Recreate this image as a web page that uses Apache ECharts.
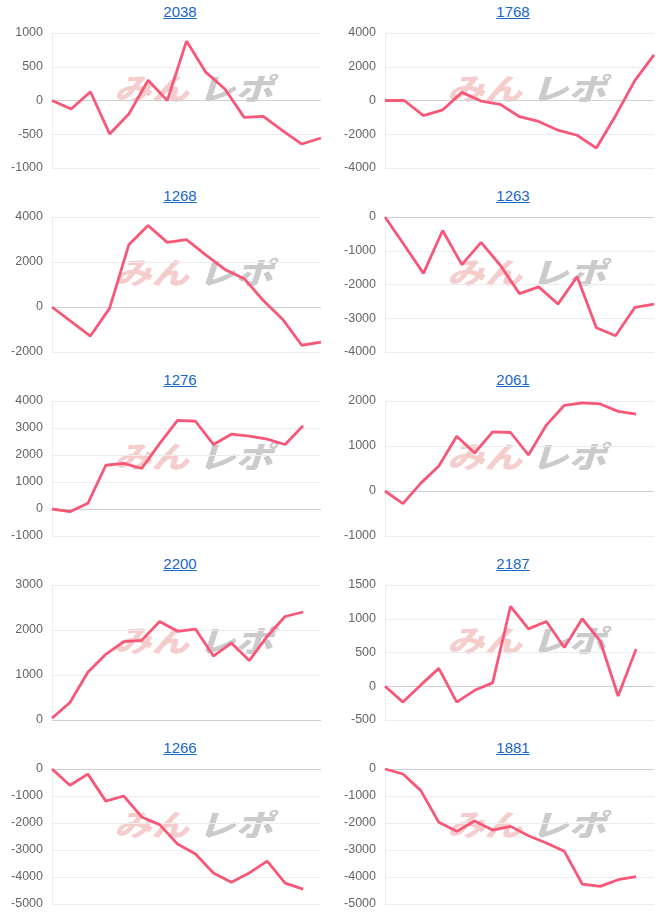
<!DOCTYPE html>
<html lang="ja">
<head>
<meta charset="utf-8">
<title>収支グラフ</title>
<script src="https://cdn.jsdelivr.net/npm/echarts@6/dist/echarts.min.js"></script>
<style>
html, body {
  margin: 0;
  padding: 0;
  background: #fff;
}
.board {
  width: 666px;
  display: grid;
  grid-template-columns: 333px 333px;
  grid-auto-rows: 184px;
}
.cell {
  position: relative;
}
.cell .title {
  height: 26px;
  padding: 3px 0 0 27px;
  box-sizing: border-box;
  line-height: 22px;
  text-align: center;
  font: 15px 'Liberation Sans', Arial, sans-serif;
}
.cell .title a {
  color: #1a66cc;
  text-decoration: underline;
}
.cell .chart {
  width: 333px;
  height: 158px;
}
</style>
</head>
<body>
<div class="board" id="board"></div>

<script>
// 日付（横軸）
const days = ['1', '2', '3', '4', '5', '6', '7', '8', '9', '10', '11', '12', '13', '14', '15', '16'];

// 台番号
const titles = ['2038', '1768', '1268', '1263', '1276', '2061', '2200', '2187', '1266', '1881'];

// 差枚の推移（未集計の日は null）
const v2038 = [0, -125, 130, -495, -200, 300, 0, 880, 420, 170, -250, -235, -445, -645, -555];
const v1768 = [0, 0, -900, -560, 480, -30, -230, -960, -1240, -1760, -2060, -2820, -900, 1180, 2700];
const v1268 = [0, -650, -1290, -50, 2770, 3620, 2870, 2990, 2320, 1670, 1260, 290, -540, -1700, -1560];
const v1263 = [0, -830, -1670, -400, -1410, -750, -1430, -2270, -2070, -2580, -1770, -3280, -3520, -2680, -2580];
const v1276 = [0, -100, 210, 1620, 1690, 1500, 2420, 3280, 3250, 2390, 2770, 2700, 2590, 2390, 3080, null];
const v2061 = [0, -280, 175, 555, 1215, 845, 1315, 1300, 800, 1465, 1905, 1960, 1935, 1770, 1710, null];
const v2200 = [40, 390, 1060, 1460, 1740, 1770, 2190, 1970, 2020, 1420, 1710, 1320, 1860, 2300, 2400, null];
const v2187 = [0, -235, 20, 265, -235, -60, 50, 1185, 850, 960, 575, 1000, 670, -145, 550, null];
const v1266 = [0, -600, -190, -1190, -1000, -1775, -2060, -2775, -3150, -3850, -4190, -3850, -3410, -4225, -4450, null];
const v1881 = [0, -185, -800, -1975, -2310, -1925, -2260, -2125, -2470, -2740, -3050, -4260, -4345, -4100, -3990, null];

const valueList = [v2038, v1768, v1268, v1263, v1276, v2061, v2200, v2187, v1266, v1881];

// 縦軸の目盛り
const yMin = [-1000, -4000, -2000, -4000, -1000, -1000, 0, -500, -5000, -5000];
const yMax = [1000, 4000, 4000, 0, 4000, 2000, 3000, 1500, 0, 0];
const yStep = [500, 2000, 2000, 1000, 1000, 1000, 1000, 500, 1000, 1000];

const LINE_COLOR = 'rgb(247, 88, 120)';
const GRID_COLOR = '#ececec';
const ZERO_COLOR = '#d0d0d0';

const board = document.getElementById('board');

// 0 の線だけ少し濃くする
const getSplitColors = (index) => {
  const colors = [];
  for (let v = yMin[index]; v <= yMax[index]; v += yStep[index]) {
    colors.push(v === 0 ? ZERO_COLOR : GRID_COLOR);
  }
  return colors;
};

const watermarkStyle = (text, color) => ({
  text,
  fill: color,
  fontSize: 30,
  fontWeight: 900,
  fontStyle: 'italic',
  fontFamily: 'Noto Sans CJK JP',
});

const getChartOption = (index) => {
  const values = valueList[index];
  return {
    animation: false,
    grid: {
      left: 52,
      right: 12,
      top: 7,
      bottom: 16,
    },
    // みんレポ の透かし
    graphic: [
      {
        type: 'text',
        left: 114,
        top: 48,
        z: 0,
        scaleX: 1.25,
        style: watermarkStyle('みん', 'rgba(232, 135, 135, 0.42)'),
      },
      {
        type: 'text',
        left: 198,
        top: 48,
        z: 0,
        scaleX: 1.25,
        style: watermarkStyle('レポ', 'rgba(140, 140, 140, 0.45)'),
      },
    ],
    xAxis: {
      type: 'category',
      data: days.slice(0, values.length),
      boundaryGap: false,
      axisLine: { show: false },
      axisTick: { show: false },
      axisLabel: { show: false },
      splitLine: { show: false },
    },
    yAxis: {
      type: 'value',
      min: yMin[index],
      max: yMax[index],
      interval: yStep[index],
      axisLine: {
        show: true,
        lineStyle: { color: '#eeeeee' },
      },
      axisTick: { show: false },
      axisLabel: {
        color: '#666666',
        fontSize: 12.5,
        fontFamily: 'Liberation Sans, Arial, sans-serif',
        margin: 9,
        formatter: (value) => String(value),
      },
      splitLine: {
        lineStyle: { color: getSplitColors(index), width: 1 },
      },
    },
    series: [{
      type: 'line',
      data: values,
      showSymbol: false,
      z: 3,
      lineStyle: {
        color: LINE_COLOR,
        width: 2.8,
      },
    }],
  };
};

titles.forEach((title, index) => {
  const cell = document.createElement('div');
  cell.className = 'cell';
  cell.innerHTML = '<div class="title"><a href="#">' + title + '</a></div><div class="chart"></div>';
  board.appendChild(cell);
  const myChart = echarts.init(cell.querySelector('.chart'));
  myChart.setOption(getChartOption(index));
});
</script>
</body>
</html>
